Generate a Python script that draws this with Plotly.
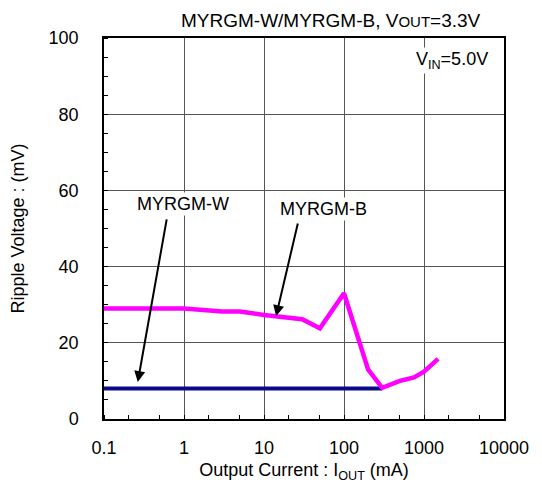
import plotly.graph_objects as go
import math

# Data
b_current = [0.1, 1, 3, 5, 10, 15, 30, 50, 100, 200, 300, 500, 750, 1000, 1500]
b_ripple = [29, 29, 28.2, 28.2, 27.3, 26.9, 26.2, 23.8, 33, 13.0, 8.2, 10.0, 10.9, 12.4, 15.8]
w_current = [0.1, 300]
w_ripple = [8, 8]
x_ticks = [0.1, 1, 10, 100, 1000, 10000]
x_tick_text = ["0.1", "1", "10", "100", "1000", "10000"]
y_ticks = [0, 20, 40, 60, 80, 100]

FONT = "Liberation Sans, Arial, sans-serif"
L = math.log10

fig = go.Figure()
fig.add_trace(go.Scatter(x=w_current, y=w_ripple, mode="lines",
                         line=dict(color="#0a0a8c", width=4), showlegend=False))
fig.add_trace(go.Scatter(x=b_current, y=b_ripple, mode="lines",
                         line=dict(color="#ff00ff", width=4.5), showlegend=False))

grid = "#555555"
fig.update_xaxes(type="log", range=[-1, 4], tickvals=x_ticks, ticktext=x_tick_text,
                 showgrid=True, gridcolor=grid, gridwidth=1, automargin=False,
                 showline=True, linecolor="black", linewidth=1.5, mirror=True,
                 ticks="", ticklabelstandoff=12,
                 minor=dict(ticks="inside", ticklen=4, tickcolor="black", showgrid=False),
                 tickfont=dict(family=FONT, size=18, color="black"),
                 title=dict(text="Output Current : I<sub>OUT</sub> (mA)",
                            font=dict(family=FONT, size=18, color="black"), standoff=6),
                 zeroline=False)
fig.update_yaxes(range=[0, 100], tickvals=y_ticks, automargin=False,
                 showgrid=True, gridcolor=grid, gridwidth=1,
                 showline=True, linecolor="black", linewidth=1.5, mirror=True,
                 ticks="", ticklabelstandoff=20,
                 minor=dict(ticks="inside", ticklen=4, dtick=5, tickcolor="black", showgrid=False),
                 tickfont=dict(family=FONT, size=18, color="black"),
                 title=dict(text="Ripple Voltage : (mV)",
                            font=dict(family=FONT, size=18, color="black"), standoff=19),
                 zeroline=False)

ann_font = dict(family=FONT, size=18, color="black")
fig.add_annotation(x=-0.578, y=9.7, ax=-0.213, ay=52.8, xref="x", yref="y",
                   axref="x", ayref="y", showarrow=True, arrowhead=2, arrowsize=1.1,
                   arrowwidth=2, arrowcolor="black", text="")
fig.add_annotation(x=-0.007, y=56.4, xref="x", yref="y", text="MYRGM-W",
                   showarrow=False, font=ann_font, bgcolor="white")
fig.add_annotation(x=1.151, y=27.0, ax=1.427, ay=51.7, xref="x", yref="y",
                   axref="x", ayref="y", showarrow=True, arrowhead=2, arrowsize=1.1,
                   arrowwidth=2, arrowcolor="black", text="")
fig.add_annotation(x=1.747, y=55.1, xref="x", yref="y", text="MYRGM-B",
                   showarrow=False, font=ann_font, bgcolor="white")
fig.add_annotation(x=3.344, y=94.2, xref="x", yref="y",
                   text="V<sub>IN</sub>=5.0V", showarrow=False,
                   font=ann_font, bgcolor="white")
fig.add_annotation(x=0.567, y=1.045, xref="paper", yref="paper", yanchor="middle",
                   text="MYRGM-W/MYRGM-B, V<span style='font-size:15px'>OUT</span>=3.3V",
                   showarrow=False, font=dict(family=FONT, size=19, color="black"))

# page body adds an 8px offset; figure sized so plot area lands at 104..503 x 38..419
fig.update_layout(width=534, height=475, margin=dict(l=96, r=38, t=30, b=64),
                  paper_bgcolor="white", plot_bgcolor="white")
fig.write_html("out.html")
